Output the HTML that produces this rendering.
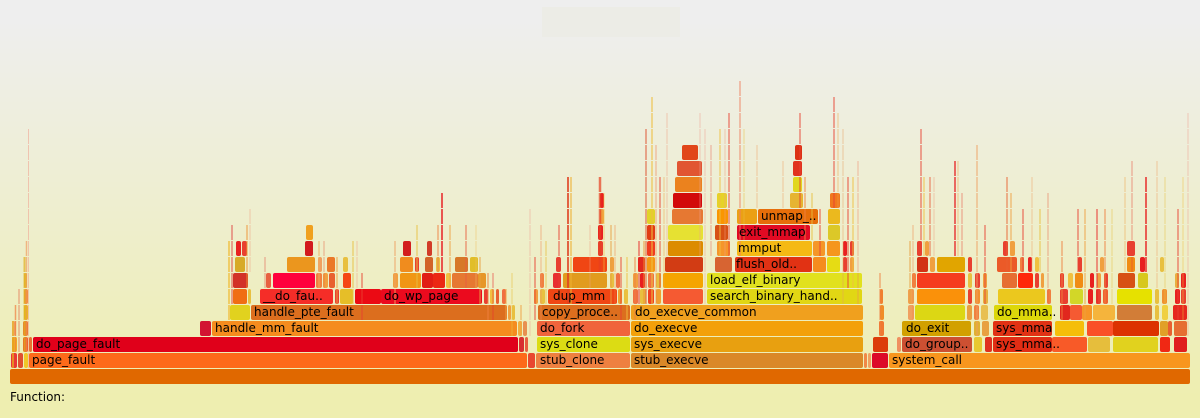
<!DOCTYPE html>
<html><head><meta charset="utf-8"><style>
html,body{margin:0;padding:0;background:#eeeeee;}
svg{display:block;}
rect.b{rx:2px;ry:2px;}
text{font-family:"DejaVu Sans","Liberation Sans",sans-serif;font-size:12px;fill:#000;}
</style></head><body>
<svg width="1200" height="418" viewBox="0 0 1200 418" xmlns="http://www.w3.org/2000/svg">
<defs><linearGradient id="bg" x1="0" y1="0" x2="0" y2="1"><stop offset="5%" stop-color="#eeeeee"/><stop offset="95%" stop-color="#eeeeb0"/></linearGradient></defs>
<rect x="0" y="0" width="1200" height="418" fill="url(#bg)"/>
<rect x="542" y="7" width="138" height="30" fill="#ecece6"/>
<g>
<!-- row0 -->
<rect class="b" x="10" y="369" width="1180" height="15" fill="#e06800"/>
<!-- row1 -->
<rect class="b" x="11" y="353" width="6" height="15" fill="#e83838"/>
<rect class="b" x="18" y="353" width="5" height="15" fill="#e05030"/>
<rect class="b" x="24" y="353" width="4" height="15" fill="#f0c828"/>
<rect class="b" x="29" y="353" width="498" height="15" fill="#fd6a1a"/>
<rect class="b" x="528" y="353" width="7" height="15" fill="#e84830"/>
<rect class="b" x="536" y="353" width="94" height="15" fill="#ee8040"/>
<rect class="b" x="631" y="353" width="232" height="15" fill="#da8828"/>
<rect class="b" x="864" y="353" width="3" height="15" fill="#f08848"/>
<rect class="b" x="868" y="353" width="3" height="15" fill="#f0a060"/>
<rect class="b" x="872" y="353" width="16" height="15" fill="#dc0a28"/>
<rect class="b" x="889" y="353" width="301" height="15" fill="#f8961e"/>
<!-- row2 -->
<rect class="b" x="12" y="337" width="5" height="15" fill="#f0b020"/>
<rect class="b" x="23" y="337" width="5" height="15" fill="#eb5a28"/>
<rect class="b" x="29" y="337" width="3" height="15" fill="#eb7030"/>
<rect class="b" x="33" y="337" width="485" height="15" fill="#e0001a"/>
<rect class="b" x="519" y="337" width="5" height="15" fill="#d83030"/>
<rect class="b" x="525" y="337" width="3" height="15" fill="#e86040"/>
<rect class="b" x="537" y="337" width="93" height="15" fill="#dcdc14"/>
<rect class="b" x="631" y="337" width="232" height="15" fill="#e8a010"/>
<rect class="b" x="873" y="337" width="15" height="15" fill="#dc3c0a"/>
<rect class="b" x="897" y="337" width="4" height="15" fill="#f09060"/>
<rect class="b" x="902" y="337" width="70" height="15" fill="#cd5032"/>
<rect class="b" x="974" y="337" width="8" height="15" fill="#e8c830"/>
<rect class="b" x="985" y="337" width="7" height="15" fill="#e03020"/>
<rect class="b" x="993" y="337" width="59" height="15" fill="#e12d14"/>
<rect class="b" x="1052" y="337" width="35" height="15" fill="#f85a28"/>
<rect class="b" x="1088" y="337" width="22" height="15" fill="#e6be3c"/>
<rect class="b" x="1113" y="337" width="45" height="15" fill="#e1d21e"/>
<rect class="b" x="1160" y="337" width="10" height="15" fill="#f02814"/>
<rect class="b" x="1174" y="337" width="13" height="15" fill="#e01e1e"/>
<!-- row3 -->
<rect class="b" x="14" y="321" width="2" height="15" fill="#f0a060"/>
<rect class="b" x="23" y="321" width="5" height="15" fill="#eb7830"/>
<rect class="b" x="200" y="321" width="11" height="15" fill="#d21432"/>
<rect class="b" x="212" y="321" width="305" height="15" fill="#f58c1e"/>
<rect class="b" x="518" y="321" width="4" height="15" fill="#f0b040"/>
<rect class="b" x="523" y="321" width="4" height="15" fill="#e89050"/>
<rect class="b" x="537" y="321" width="93" height="15" fill="#f0643c"/>
<rect class="b" x="631" y="321" width="232" height="15" fill="#f3a00a"/>
<rect class="b" x="879" y="321" width="5" height="15" fill="#f07832"/>
<rect class="b" x="902" y="321" width="69" height="15" fill="#d2a000"/>
<rect class="b" x="974" y="321" width="6" height="15" fill="#e0b030"/>
<rect class="b" x="982" y="321" width="7" height="15" fill="#e8a040"/>
<rect class="b" x="993" y="321" width="59" height="15" fill="#e13214"/>
<rect class="b" x="1055" y="321" width="29" height="15" fill="#f5be0a"/>
<rect class="b" x="1087" y="321" width="26" height="15" fill="#fa5028"/>
<rect class="b" x="1113" y="321" width="46" height="15" fill="#dc3200"/>
<rect class="b" x="1160" y="321" width="8" height="15" fill="#e1a028"/>
<rect class="b" x="1168" y="321" width="4" height="15" fill="#e86030"/>
<rect class="b" x="1174" y="321" width="13" height="15" fill="#e66e32"/>
<!-- row4 -->
<rect class="b" x="24" y="305" width="4" height="15" fill="#e6be1e"/>
<rect class="b" x="230" y="305" width="20" height="15" fill="#e1d21e"/>
<rect class="b" x="251" y="305" width="256" height="15" fill="#dc6e1e"/>
<rect class="b" x="508" y="305" width="3" height="15" fill="#f0a040"/>
<rect class="b" x="512" y="305" width="3" height="15" fill="#e8c040"/>
<rect class="b" x="538" y="305" width="92" height="15" fill="#dc6e1e"/>
<rect class="b" x="631" y="305" width="232" height="15" fill="#f0a01e"/>
<rect class="b" x="880" y="305" width="4" height="15" fill="#f08c28"/>
<rect class="b" x="908" y="305" width="6" height="15" fill="#f0a060"/>
<rect class="b" x="915" y="305" width="50" height="15" fill="#dcd714"/>
<rect class="b" x="967" y="305" width="5" height="15" fill="#e8a040"/>
<rect class="b" x="974" y="305" width="5" height="15" fill="#f08040"/>
<rect class="b" x="981" y="305" width="7" height="15" fill="#e8c050"/>
<rect class="b" x="994" y="305" width="58" height="15" fill="#dcd70a"/>
<rect class="b" x="1060" y="305" width="10" height="15" fill="#e1281e"/>
<rect class="b" x="1070" y="305" width="12" height="15" fill="#f55a32"/>
<rect class="b" x="1082" y="305" width="10" height="15" fill="#f59628"/>
<rect class="b" x="1093" y="305" width="22" height="15" fill="#f5b43c"/>
<rect class="b" x="1117" y="305" width="35" height="15" fill="#d27d37"/>
<rect class="b" x="1155" y="305" width="4" height="15" fill="#e8c040"/>
<rect class="b" x="1162" y="305" width="6" height="15" fill="#f0d040"/>
<rect class="b" x="1173" y="305" width="14" height="15" fill="#e6281e"/>
<!-- row5 -->
<rect class="b" x="24" y="289" width="4" height="15" fill="#f09040"/>
<rect class="b" x="233" y="289" width="14" height="15" fill="#f06e14"/>
<rect class="b" x="248" y="289" width="3" height="15" fill="#e8c040"/>
<rect class="b" x="260" y="289" width="73" height="15" fill="#f52d28"/>
<rect class="b" x="335" y="289" width="4" height="15" fill="#e84030"/>
<rect class="b" x="340" y="289" width="13" height="15" fill="#e6be28"/>
<rect class="b" x="355" y="289" width="26" height="15" fill="#eb0a14"/>
<rect class="b" x="381" y="289" width="101" height="15" fill="#eb0a1e"/>
<rect class="b" x="484" y="289" width="4" height="15" fill="#e84030"/>
<rect class="b" x="490" y="289" width="4" height="15" fill="#f0c040"/>
<rect class="b" x="496" y="289" width="3" height="15" fill="#e86030"/>
<rect class="b" x="502" y="289" width="4" height="15" fill="#f07040"/>
<rect class="b" x="534" y="289" width="4" height="15" fill="#f0a040"/>
<rect class="b" x="540" y="289" width="5" height="15" fill="#e8c040"/>
<rect class="b" x="548" y="289" width="69" height="15" fill="#f04614"/>
<rect class="b" x="618" y="289" width="4" height="15" fill="#f0a030"/>
<rect class="b" x="624" y="289" width="4" height="15" fill="#e8c040"/>
<rect class="b" x="633" y="289" width="5" height="15" fill="#f07040"/>
<rect class="b" x="640" y="289" width="6" height="15" fill="#e8c040"/>
<rect class="b" x="648" y="289" width="6" height="15" fill="#f04020"/>
<rect class="b" x="656" y="289" width="5" height="15" fill="#f0a030"/>
<rect class="b" x="663" y="289" width="40" height="15" fill="#f55a32"/>
<rect class="b" x="707" y="289" width="155" height="15" fill="#e1d714"/>
<rect class="b" x="880" y="289" width="3" height="15" fill="#f08030"/>
<rect class="b" x="908" y="289" width="6" height="15" fill="#f0a050"/>
<rect class="b" x="917" y="289" width="48" height="15" fill="#fa910a"/>
<rect class="b" x="968" y="289" width="4" height="15" fill="#e84030"/>
<rect class="b" x="975" y="289" width="5" height="15" fill="#f09030"/>
<rect class="b" x="983" y="289" width="5" height="15" fill="#e8b040"/>
<rect class="b" x="998" y="289" width="47" height="15" fill="#ebc81e"/>
<rect class="b" x="1047" y="289" width="4" height="15" fill="#f08040"/>
<rect class="b" x="1060" y="289" width="8" height="15" fill="#e84030"/>
<rect class="b" x="1070" y="289" width="13" height="15" fill="#d2d728"/>
<rect class="b" x="1088" y="289" width="5" height="15" fill="#e82020"/>
<rect class="b" x="1096" y="289" width="5" height="15" fill="#e84030"/>
<rect class="b" x="1103" y="289" width="5" height="15" fill="#f06030"/>
<rect class="b" x="1117" y="289" width="35" height="15" fill="#e6e100"/>
<rect class="b" x="1155" y="289" width="4" height="15" fill="#e8c040"/>
<rect class="b" x="1162" y="289" width="5" height="15" fill="#f09030"/>
<rect class="b" x="1175" y="289" width="5" height="15" fill="#e82020"/>
<rect class="b" x="1181" y="289" width="5" height="15" fill="#e84030"/>
<!-- row6 -->
<rect class="b" x="24" y="273" width="3" height="15" fill="#e8c040"/>
<rect class="b" x="233" y="273" width="15" height="15" fill="#d23228"/>
<rect class="b" x="266" y="273" width="5" height="15" fill="#e86040"/>
<rect class="b" x="273" y="273" width="42" height="15" fill="#ff003c"/>
<rect class="b" x="316" y="273" width="6" height="15" fill="#f08040"/>
<rect class="b" x="323" y="273" width="5" height="15" fill="#f0a040"/>
<rect class="b" x="329" y="273" width="6" height="15" fill="#e86030"/>
<rect class="b" x="343" y="273" width="8" height="15" fill="#f54614"/>
<rect class="b" x="393" y="273" width="5" height="15" fill="#f0a040"/>
<rect class="b" x="400" y="273" width="21" height="15" fill="#f09614"/>
<rect class="b" x="422" y="273" width="11" height="15" fill="#e11e14"/>
<rect class="b" x="433" y="273" width="12" height="15" fill="#eb2814"/>
<rect class="b" x="446" y="273" width="5" height="15" fill="#f0c040"/>
<rect class="b" x="452" y="273" width="26" height="15" fill="#e67832"/>
<rect class="b" x="478" y="273" width="8" height="15" fill="#e69628"/>
<rect class="b" x="540" y="273" width="4" height="15" fill="#f08040"/>
<rect class="b" x="553" y="273" width="8" height="15" fill="#e83030"/>
<rect class="b" x="563" y="273" width="44" height="15" fill="#e19b1e"/>
<rect class="b" x="610" y="273" width="4" height="15" fill="#e8c040"/>
<rect class="b" x="616" y="273" width="4" height="15" fill="#f07040"/>
<rect class="b" x="633" y="273" width="5" height="15" fill="#f0a040"/>
<rect class="b" x="640" y="273" width="5" height="15" fill="#e82020"/>
<rect class="b" x="648" y="273" width="6" height="15" fill="#f07040"/>
<rect class="b" x="656" y="273" width="5" height="15" fill="#e8c040"/>
<rect class="b" x="663" y="273" width="40" height="15" fill="#f5a500"/>
<rect class="b" x="707" y="273" width="155" height="15" fill="#e1e11e"/>
<rect class="b" x="912" y="273" width="4" height="15" fill="#f08040"/>
<rect class="b" x="917" y="273" width="48" height="15" fill="#f53c1e"/>
<rect class="b" x="968" y="273" width="4" height="15" fill="#e8c040"/>
<rect class="b" x="975" y="273" width="5" height="15" fill="#e84030"/>
<rect class="b" x="983" y="273" width="4" height="15" fill="#f0a040"/>
<rect class="b" x="1002" y="273" width="15" height="15" fill="#e66e32"/>
<rect class="b" x="1018" y="273" width="15" height="15" fill="#ff280a"/>
<rect class="b" x="1035" y="273" width="4" height="15" fill="#e84030"/>
<rect class="b" x="1041" y="273" width="3" height="15" fill="#f0a040"/>
<rect class="b" x="1060" y="273" width="4" height="15" fill="#e84030"/>
<rect class="b" x="1068" y="273" width="5" height="15" fill="#f0c040"/>
<rect class="b" x="1075" y="273" width="8" height="15" fill="#f08c14"/>
<rect class="b" x="1090" y="273" width="4" height="15" fill="#e82020"/>
<rect class="b" x="1097" y="273" width="4" height="15" fill="#f0a040"/>
<rect class="b" x="1104" y="273" width="4" height="15" fill="#e84030"/>
<rect class="b" x="1118" y="273" width="17" height="15" fill="#d75014"/>
<rect class="b" x="1138" y="273" width="10" height="15" fill="#d7c81e"/>
<rect class="b" x="1175" y="273" width="4" height="15" fill="#e8b040"/>
<rect class="b" x="1181" y="273" width="5" height="15" fill="#e82020"/>
<!-- row7 -->
<rect class="b" x="235" y="257" width="10" height="15" fill="#d7aa28"/>
<rect class="b" x="287" y="257" width="28" height="15" fill="#eb961e"/>
<rect class="b" x="318" y="257" width="4" height="15" fill="#f0a060"/>
<rect class="b" x="327" y="257" width="8" height="15" fill="#eb7828"/>
<rect class="b" x="343" y="257" width="5" height="15" fill="#e8c040"/>
<rect class="b" x="400" y="257" width="13" height="15" fill="#f08c1e"/>
<rect class="b" x="415" y="257" width="4" height="15" fill="#e84030"/>
<rect class="b" x="425" y="257" width="8" height="15" fill="#d26428"/>
<rect class="b" x="436" y="257" width="4" height="15" fill="#e8c040"/>
<rect class="b" x="455" y="257" width="13" height="15" fill="#d77828"/>
<rect class="b" x="470" y="257" width="8" height="15" fill="#e1be28"/>
<rect class="b" x="556" y="257" width="5" height="15" fill="#e84030"/>
<rect class="b" x="573" y="257" width="34" height="15" fill="#f04614"/>
<rect class="b" x="610" y="257" width="4" height="15" fill="#f0a040"/>
<rect class="b" x="638" y="257" width="7" height="15" fill="#e1281e"/>
<rect class="b" x="647" y="257" width="8" height="15" fill="#f59614"/>
<rect class="b" x="665" y="257" width="38" height="15" fill="#d23c14"/>
<rect class="b" x="715" y="257" width="17" height="15" fill="#d76432"/>
<rect class="b" x="735" y="257" width="77" height="15" fill="#e13214"/>
<rect class="b" x="813" y="257" width="13" height="15" fill="#f58c1e"/>
<rect class="b" x="827" y="257" width="13" height="15" fill="#e6dc14"/>
<rect class="b" x="843" y="257" width="4" height="15" fill="#e84030"/>
<rect class="b" x="850" y="257" width="4" height="15" fill="#f0a040"/>
<rect class="b" x="917" y="257" width="11" height="15" fill="#d23214"/>
<rect class="b" x="930" y="257" width="5" height="15" fill="#f0a040"/>
<rect class="b" x="937" y="257" width="28" height="15" fill="#e1a500"/>
<rect class="b" x="968" y="257" width="4" height="15" fill="#e84030"/>
<rect class="b" x="997" y="257" width="20" height="15" fill="#eb5a28"/>
<rect class="b" x="1020" y="257" width="4" height="15" fill="#f08040"/>
<rect class="b" x="1028" y="257" width="4" height="15" fill="#e82020"/>
<rect class="b" x="1035" y="257" width="4" height="15" fill="#f0c040"/>
<rect class="b" x="1078" y="257" width="4" height="15" fill="#e84030"/>
<rect class="b" x="1100" y="257" width="4" height="15" fill="#f0a040"/>
<rect class="b" x="1127" y="257" width="8" height="15" fill="#f08c14"/>
<rect class="b" x="1140" y="257" width="5" height="15" fill="#e82020"/>
<rect class="b" x="1160" y="257" width="4" height="15" fill="#e8c040"/>
<!-- row8 -->
<rect class="b" x="236" y="241" width="5" height="15" fill="#e82020"/>
<rect class="b" x="242" y="241" width="5" height="15" fill="#e84030"/>
<rect class="b" x="305" y="241" width="8" height="15" fill="#d2191e"/>
<rect class="b" x="403" y="241" width="8" height="15" fill="#d21e1e"/>
<rect class="b" x="427" y="241" width="5" height="15" fill="#d23c28"/>
<rect class="b" x="598" y="241" width="5" height="15" fill="#e84030"/>
<rect class="b" x="647" y="241" width="8" height="15" fill="#f03c1e"/>
<rect class="b" x="668" y="241" width="35" height="15" fill="#dc8c00"/>
<rect class="b" x="717" y="241" width="13" height="15" fill="#f5962a"/>
<rect class="b" x="737" y="241" width="75" height="15" fill="#f5b914"/>
<rect class="b" x="813" y="241" width="12" height="15" fill="#f59628"/>
<rect class="b" x="827" y="241" width="13" height="15" fill="#f5961e"/>
<rect class="b" x="843" y="241" width="4" height="15" fill="#e82020"/>
<rect class="b" x="850" y="241" width="4" height="15" fill="#e84030"/>
<rect class="b" x="917" y="241" width="5" height="15" fill="#e84030"/>
<rect class="b" x="925" y="241" width="4" height="15" fill="#f0a040"/>
<rect class="b" x="1003" y="241" width="5" height="15" fill="#e84030"/>
<rect class="b" x="1010" y="241" width="5" height="15" fill="#f0a040"/>
<rect class="b" x="1127" y="241" width="8" height="15" fill="#e84030"/>
<!-- row9 -->
<rect class="b" x="306" y="225" width="7" height="15" fill="#f0a01e"/>
<rect class="b" x="598" y="225" width="5" height="15" fill="#e82020"/>
<rect class="b" x="647" y="225" width="8" height="15" fill="#e13c14"/>
<rect class="b" x="668" y="225" width="35" height="15" fill="#e6e132"/>
<rect class="b" x="715" y="225" width="13" height="15" fill="#d75014"/>
<rect class="b" x="737" y="225" width="73" height="15" fill="#e10a23"/>
<rect class="b" x="828" y="225" width="12" height="15" fill="#dcc828"/>
<!-- row10 -->
<rect class="b" x="600" y="209" width="4" height="15" fill="#f0a040"/>
<rect class="b" x="647" y="209" width="8" height="15" fill="#e1d228"/>
<rect class="b" x="672" y="209" width="31" height="15" fill="#e67832"/>
<rect class="b" x="717" y="209" width="11" height="15" fill="#fa9600"/>
<rect class="b" x="737" y="209" width="20" height="15" fill="#eba014"/>
<rect class="b" x="758" y="209" width="60" height="15" fill="#e66e0a"/>
<rect class="b" x="828" y="209" width="12" height="15" fill="#ebb91e"/>
<!-- row11 -->
<rect class="b" x="600" y="193" width="4" height="15" fill="#e82020"/>
<rect class="b" x="673" y="193" width="29" height="15" fill="#d20a0a"/>
<rect class="b" x="717" y="193" width="10" height="15" fill="#e6d228"/>
<rect class="b" x="790" y="193" width="13" height="15" fill="#e6b432"/>
<rect class="b" x="830" y="193" width="10" height="15" fill="#f0781e"/>
<!-- row12-14 -->
<rect class="b" x="675" y="177" width="27" height="15" fill="#eb821e"/>
<rect class="b" x="793" y="177" width="9" height="15" fill="#e1d71e"/>
<rect class="b" x="677" y="161" width="25" height="15" fill="#e15532"/>
<rect class="b" x="793" y="161" width="9" height="15" fill="#e1321e"/>
<rect class="b" x="682" y="145" width="16" height="15" fill="#e1461a"/>
<rect class="b" x="795" y="145" width="7" height="15" fill="#dc3214"/>
</g>
<g stroke-dasharray="15 1">
<line x1="13" x2="13" y1="321" y2="368" stroke="#e8a020" stroke-width="2" opacity="0.8"/>
<line x1="15.5" x2="15.5" y1="305" y2="352" stroke="#f08040" stroke-width="1.5" opacity="0.7"/>
<line x1="19" x2="19" y1="289" y2="352" stroke="#e05030" stroke-width="1" opacity="0.6"/>
<line x1="24.5" x2="24.5" y1="257" y2="352" stroke="#e0b020" stroke-width="2" opacity="0.7"/>
<line x1="26.5" x2="26.5" y1="241" y2="352" stroke="#f09050" stroke-width="1.5" opacity="0.6"/>
<line x1="28.5" x2="28.5" y1="129" y2="368" stroke="#f0a090" stroke-width="1" opacity="0.55"/>
<line x1="229" x2="229" y1="241" y2="320" stroke="#f0c040" stroke-width="2" opacity="0.7"/>
<line x1="232" x2="232" y1="225" y2="304" stroke="#e04040" stroke-width="1.5" opacity="0.6"/>
<line x1="247" x2="247" y1="225" y2="288" stroke="#f09030" stroke-width="1.5" opacity="0.6"/>
<line x1="250" x2="250" y1="209" y2="272" stroke="#f0a080" stroke-width="1" opacity="0.5"/>
<line x1="265" x2="265" y1="257" y2="288" stroke="#e06050" stroke-width="1" opacity="0.6"/>
<line x1="319" x2="319" y1="241" y2="288" stroke="#f0b060" stroke-width="1.5" opacity="0.6"/>
<line x1="324" x2="324" y1="241" y2="288" stroke="#e86040" stroke-width="1" opacity="0.5"/>
<line x1="337" x2="337" y1="257" y2="304" stroke="#f0a040" stroke-width="1.5" opacity="0.6"/>
<line x1="353" x2="353" y1="241" y2="304" stroke="#e8c040" stroke-width="1.5" opacity="0.6"/>
<line x1="357" x2="357" y1="241" y2="288" stroke="#f0a080" stroke-width="1" opacity="0.5"/>
<line x1="362" x2="362" y1="273" y2="320" stroke="#e84030" stroke-width="1.5" opacity="0.6"/>
<line x1="395" x2="395" y1="241" y2="304" stroke="#f0a060" stroke-width="1.5" opacity="0.6"/>
<line x1="417" x2="417" y1="225" y2="288" stroke="#e8c040" stroke-width="1.5" opacity="0.6"/>
<line x1="438" x2="438" y1="225" y2="272" stroke="#f08040" stroke-width="1.5" opacity="0.6"/>
<line x1="442" x2="442" y1="193" y2="272" stroke="#e83030" stroke-width="2" opacity="0.8"/>
<line x1="450" x2="450" y1="225" y2="288" stroke="#f0a040" stroke-width="1.5" opacity="0.6"/>
<line x1="466" x2="466" y1="225" y2="288" stroke="#e86040" stroke-width="1.5" opacity="0.6"/>
<line x1="476" x2="476" y1="225" y2="288" stroke="#f0c060" stroke-width="1" opacity="0.5"/>
<line x1="480" x2="480" y1="257" y2="304" stroke="#e8a040" stroke-width="1.5" opacity="0.6"/>
<line x1="488" x2="488" y1="273" y2="320" stroke="#f08040" stroke-width="1.5" opacity="0.6"/>
<line x1="493" x2="493" y1="273" y2="320" stroke="#e83030" stroke-width="1" opacity="0.6"/>
<line x1="506" x2="506" y1="289" y2="320" stroke="#f0a040" stroke-width="1.5" opacity="0.6"/>
<line x1="512" x2="512" y1="273" y2="336" stroke="#e8c040" stroke-width="1" opacity="0.6"/>
<line x1="521" x2="521" y1="305" y2="336" stroke="#f0a040" stroke-width="1.5" opacity="0.6"/>
<line x1="530" x2="530" y1="209" y2="336" stroke="#f0a090" stroke-width="1" opacity="0.5"/>
<line x1="535" x2="535" y1="257" y2="320" stroke="#e84030" stroke-width="1.5" opacity="0.6"/>
<line x1="541" x2="541" y1="225" y2="320" stroke="#f09060" stroke-width="1" opacity="0.6"/>
<line x1="546" x2="546" y1="241" y2="304" stroke="#e8c040" stroke-width="1.5" opacity="0.5"/>
<line x1="559" x2="559" y1="225" y2="288" stroke="#e84030" stroke-width="1.5" opacity="0.6"/>
<line x1="568" x2="568" y1="177" y2="304" stroke="#e04020" stroke-width="2" opacity="0.8"/>
<line x1="571" x2="571" y1="177" y2="304" stroke="#f0b030" stroke-width="1.5" opacity="0.7"/>
<line x1="590" x2="590" y1="225" y2="288" stroke="#f0a080" stroke-width="1" opacity="0.5"/>
<line x1="600" x2="600" y1="177" y2="272" stroke="#e84020" stroke-width="2.5" opacity="0.7"/>
<line x1="604" x2="604" y1="193" y2="272" stroke="#f0c040" stroke-width="1" opacity="0.6"/>
<line x1="611" x2="611" y1="225" y2="304" stroke="#e8a040" stroke-width="1.5" opacity="0.6"/>
<line x1="615" x2="615" y1="225" y2="304" stroke="#f08040" stroke-width="1" opacity="0.5"/>
<line x1="621" x2="621" y1="257" y2="320" stroke="#e84030" stroke-width="1.5" opacity="0.6"/>
<line x1="627" x2="627" y1="257" y2="320" stroke="#f0c040" stroke-width="1.5" opacity="0.6"/>
<line x1="635" x2="635" y1="257" y2="320" stroke="#f08040" stroke-width="1.5" opacity="0.6"/>
<line x1="639" x2="639" y1="241" y2="304" stroke="#e82020" stroke-width="1.5" opacity="0.6"/>
<line x1="644" x2="644" y1="241" y2="304" stroke="#f09030" stroke-width="1.5" opacity="0.6"/>
<line x1="646" x2="646" y1="129" y2="304" stroke="#e06040" stroke-width="1.5" opacity="0.7"/>
<line x1="652" x2="652" y1="97" y2="304" stroke="#f0c040" stroke-width="1.5" opacity="0.7"/>
<line x1="656" x2="656" y1="145" y2="304" stroke="#f08050" stroke-width="1" opacity="0.6"/>
<line x1="660" x2="660" y1="177" y2="288" stroke="#e84030" stroke-width="1.5" opacity="0.6"/>
<line x1="664" x2="664" y1="177" y2="288" stroke="#f0a040" stroke-width="1" opacity="0.5"/>
<line x1="667" x2="667" y1="113" y2="256" stroke="#f0a080" stroke-width="1" opacity="0.5"/>
<line x1="700" x2="700" y1="113" y2="256" stroke="#f0a090" stroke-width="1" opacity="0.5"/>
<line x1="705" x2="705" y1="129" y2="304" stroke="#f0a090" stroke-width="1" opacity="0.5"/>
<line x1="711" x2="711" y1="145" y2="256" stroke="#e86050" stroke-width="1" opacity="0.5"/>
<line x1="720" x2="720" y1="129" y2="256" stroke="#f0c040" stroke-width="1.5" opacity="0.6"/>
<line x1="725" x2="725" y1="129" y2="256" stroke="#f0a080" stroke-width="1" opacity="0.5"/>
<line x1="729" x2="729" y1="113" y2="256" stroke="#e84030" stroke-width="1.5" opacity="0.6"/>
<line x1="740" x2="740" y1="81" y2="256" stroke="#f08060" stroke-width="1.5" opacity="0.6"/>
<line x1="744" x2="744" y1="129" y2="256" stroke="#e8c040" stroke-width="1" opacity="0.5"/>
<line x1="757" x2="757" y1="145" y2="208" stroke="#f0a060" stroke-width="1" opacity="0.5"/>
<line x1="783" x2="783" y1="161" y2="208" stroke="#f0a060" stroke-width="1" opacity="0.5"/>
<line x1="800" x2="800" y1="113" y2="208" stroke="#e84030" stroke-width="1.5" opacity="0.6"/>
<line x1="805" x2="805" y1="177" y2="240" stroke="#f08040" stroke-width="1.5" opacity="0.6"/>
<line x1="812" x2="812" y1="193" y2="240" stroke="#e8c040" stroke-width="1.5" opacity="0.6"/>
<line x1="820" x2="820" y1="209" y2="256" stroke="#e84030" stroke-width="1.5" opacity="0.6"/>
<line x1="834" x2="834" y1="97" y2="208" stroke="#e84030" stroke-width="1.5" opacity="0.6"/>
<line x1="838" x2="838" y1="113" y2="208" stroke="#f0a040" stroke-width="1" opacity="0.5"/>
<line x1="843" x2="843" y1="129" y2="304" stroke="#e8a060" stroke-width="1" opacity="0.5"/>
<line x1="848" x2="848" y1="177" y2="288" stroke="#e84030" stroke-width="1.5" opacity="0.6"/>
<line x1="853" x2="853" y1="177" y2="288" stroke="#f0c040" stroke-width="1.5" opacity="0.6"/>
<line x1="858" x2="858" y1="161" y2="304" stroke="#f08060" stroke-width="1" opacity="0.5"/>
<line x1="880" x2="880" y1="273" y2="336" stroke="#f08040" stroke-width="1.5" opacity="0.6"/>
<line x1="910" x2="910" y1="241" y2="304" stroke="#e8a040" stroke-width="1.5" opacity="0.6"/>
<line x1="913" x2="913" y1="225" y2="320" stroke="#f08040" stroke-width="1" opacity="0.5"/>
<line x1="921" x2="921" y1="129" y2="256" stroke="#e84030" stroke-width="1.5" opacity="0.6"/>
<line x1="924" x2="924" y1="177" y2="256" stroke="#f0c040" stroke-width="1.5" opacity="0.6"/>
<line x1="930" x2="930" y1="177" y2="256" stroke="#e86040" stroke-width="1.5" opacity="0.6"/>
<line x1="934" x2="934" y1="177" y2="256" stroke="#f0a080" stroke-width="1" opacity="0.5"/>
<line x1="955" x2="955" y1="161" y2="256" stroke="#e83030" stroke-width="2" opacity="0.7"/>
<line x1="958" x2="958" y1="161" y2="256" stroke="#f0a040" stroke-width="1" opacity="0.5"/>
<line x1="962" x2="962" y1="193" y2="256" stroke="#e84030" stroke-width="1" opacity="0.5"/>
<line x1="977" x2="977" y1="145" y2="336" stroke="#f0a060" stroke-width="1.5" opacity="0.6"/>
<line x1="985" x2="985" y1="225" y2="304" stroke="#e84030" stroke-width="1.5" opacity="0.6"/>
<line x1="1007" x2="1007" y1="177" y2="272" stroke="#e86030" stroke-width="1.5" opacity="0.6"/>
<line x1="1011" x2="1011" y1="193" y2="272" stroke="#f0a040" stroke-width="1.5" opacity="0.6"/>
<line x1="1023" x2="1023" y1="209" y2="272" stroke="#e84030" stroke-width="1.5" opacity="0.6"/>
<line x1="1032" x2="1032" y1="177" y2="272" stroke="#f0a060" stroke-width="1" opacity="0.5"/>
<line x1="1040" x2="1040" y1="209" y2="272" stroke="#e8c040" stroke-width="1.5" opacity="0.6"/>
<line x1="1048" x2="1048" y1="193" y2="304" stroke="#e86040" stroke-width="1" opacity="0.5"/>
<line x1="1062" x2="1062" y1="241" y2="320" stroke="#f08040" stroke-width="1.5" opacity="0.6"/>
<line x1="1078" x2="1078" y1="209" y2="272" stroke="#e84030" stroke-width="1.5" opacity="0.6"/>
<line x1="1085" x2="1085" y1="209" y2="320" stroke="#f0a040" stroke-width="1.5" opacity="0.6"/>
<line x1="1097" x2="1097" y1="209" y2="304" stroke="#e82020" stroke-width="1.5" opacity="0.6"/>
<line x1="1105" x2="1105" y1="209" y2="304" stroke="#f08040" stroke-width="1.5" opacity="0.6"/>
<line x1="1112" x2="1112" y1="209" y2="320" stroke="#e8c040" stroke-width="1" opacity="0.5"/>
<line x1="1125" x2="1125" y1="177" y2="272" stroke="#f0a040" stroke-width="1" opacity="0.5"/>
<line x1="1132" x2="1132" y1="161" y2="272" stroke="#e84030" stroke-width="1" opacity="0.5"/>
<line x1="1146" x2="1146" y1="177" y2="272" stroke="#e82020" stroke-width="2" opacity="0.7"/>
<line x1="1157" x2="1157" y1="161" y2="288" stroke="#f0a060" stroke-width="1" opacity="0.5"/>
<line x1="1165" x2="1165" y1="177" y2="304" stroke="#e8c040" stroke-width="1" opacity="0.5"/>
<line x1="1178" x2="1178" y1="209" y2="320" stroke="#e84030" stroke-width="1.5" opacity="0.6"/>
<line x1="1183" x2="1183" y1="177" y2="320" stroke="#f0c040" stroke-width="1" opacity="0.5"/>
<line x1="1188" x2="1188" y1="113" y2="336" stroke="#f0a090" stroke-width="1" opacity="0.5"/>
</g>
<g>
<text x="32" y="364">page_fault</text>
<text x="540" y="364">stub_clone</text>
<text x="634" y="364">stub_execve</text>
<text x="892" y="364">system_call</text>
<text x="36" y="348">do_page_fault</text>
<text x="540" y="348">sys_clone</text>
<text x="634" y="348">sys_execve</text>
<text x="905" y="348">do_group..</text>
<text x="996" y="348">sys_mma..</text>
<text x="215" y="332">handle_mm_fault</text>
<text x="540" y="332">do_fork</text>
<text x="634" y="332">do_execve</text>
<text x="906" y="332">do_exit</text>
<text x="996" y="332">sys_mma</text>
<text x="254" y="316">handle_pte_fault</text>
<text x="542" y="316">copy_proce..</text>
<text x="635" y="316">do_execve_common</text>
<text x="997" y="316">do_mma..</text>
<text x="263" y="300">__do_fau..</text>
<text x="384" y="300">do_wp_page</text>
<text x="553" y="300">dup_mm</text>
<text x="710" y="300">search_binary_hand..</text>
<text x="710" y="284">load_elf_binary</text>
<text x="736" y="268">flush_old..</text>
<text x="738" y="252">mmput</text>
<text x="739" y="236">exit_mmap</text>
<text x="761" y="220">unmap_..</text>
<text x="10" y="401">Function:</text>
</g>
</svg>
</body></html>
